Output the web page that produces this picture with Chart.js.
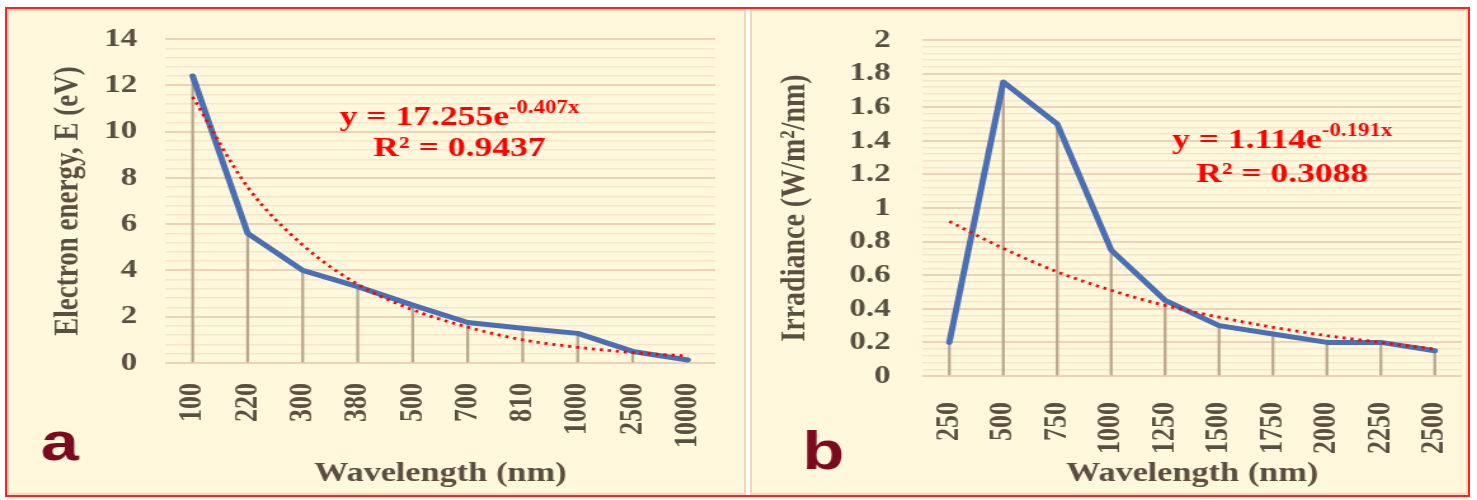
<!DOCTYPE html>
<html>
<head>
<meta charset="utf-8">
<script src="https://cdn.jsdelivr.net/npm/chart.js@4.4.1/dist/chart.umd.min.js"></script>
<style>
  body { margin: 0; background: #fff; width: 1477px; height: 500px; position: relative; overflow: hidden; }
  #frame { position: absolute; left: 5px; top: 7px; width: 1461px; height: 486px; border: 2px solid #ff2020; background: #fff8dc; box-shadow: inset 0 0 0 2px #f2dcc0; }
  #divider { position: absolute; left: 744px; top: 9px; width: 4px; height: 486px; background: #fff; border-left: 2px solid #eed6b8; border-right: 2px solid #eed6b8; }
  canvas { position: absolute; top: 0; }
</style>
</head>
<body>
<div id="frame"></div>
<div id="divider"></div>
<canvas id="chartA" width="588" height="500" style="left:0;width:747px;height:500px"></canvas>
<canvas id="chartB" width="572" height="500" style="left:751px;width:726px;height:500px"></canvas>
<script>
// panel a
const wavelengthA = ["100", "220", "300", "380", "500", "700", "810", "1000", "2500", "10000"];
const energyA = [12.4, 5.6, 4.0, 3.3, 2.5, 1.75, 1.5, 1.28, 0.5, 0.13];
const trendA = [11.5, 7.6, 5.1, 3.4, 2.3, 1.55, 1.0, 0.68, 0.45, 0.3];

// panel b
const wavelengthB = ["250", "500", "750", "1000", "1250", "1500", "1750", "2000", "2250", "2500"];
const irradianceB = [0.2, 1.75, 1.5, 0.75, 0.45, 0.3, 0.25, 0.2, 0.2, 0.15];
const trendB = [0.92, 0.76, 0.62, 0.51, 0.42, 0.35, 0.29, 0.24, 0.2, 0.16];

const textColor = "#5b4e3e";
const serif = "Liberation Serif";

// red equation + panel letter, placed in data units
const equationPlugin = {
  id: "equation",
  afterDatasetsDraw(chart, args, opts) {
    const { ctx, scales: { x, y } } = chart;
    const cx = x.getPixelForValue(opts.at);
    const y1 = y.getPixelForValue(opts.line1);
    const y2 = y.getPixelForValue(opts.line2);
    ctx.save();
    ctx.fillStyle = "#ff0000";
    ctx.textBaseline = "alphabetic";
    ctx.font = `bold 28px "${serif}"`;
    const w1 = ctx.measureText(opts.base).width;
    ctx.font = `bold 18px "${serif}"`;
    const w2 = ctx.measureText(opts.sup).width;
    const sx = cx - (w1 + w2) / 2;
    ctx.textAlign = "left";
    ctx.font = `bold 28px "${serif}"`;
    ctx.fillText(opts.base, sx, y1);
    ctx.font = `bold 18px "${serif}"`;
    ctx.fillText(opts.sup, sx + w1, y1 - 12);
    ctx.textAlign = "center";
    ctx.font = `bold 28px "${serif}"`;
    ctx.fillText(opts.r2, cx, y2);

    ctx.fillStyle = "#7b0a1e";
    ctx.font = 'bold 54px "Liberation Sans"';
    ctx.fillText(opts.letter, opts.letterX, opts.letterY);
    ctx.restore();
  },
};

function makeChart(id, labels, values, trend, s) {
  const isMajor = (v) => Math.abs(v / s.major - Math.round(v / s.major)) < 1e-6;
  return new Chart(document.getElementById(id), {
    type: "bar",
    data: {
      labels: labels,
      datasets: [
        {
          type: "line",
          data: trend,
          borderColor: "#ff0000",
          borderWidth: 2.8,
          borderDash: [2.5, 3.8],
          cubicInterpolationMode: "monotone",
          pointRadius: 0,
          fill: false,
          order: 0,
        },
        {
          type: "line",
          data: values,
          borderColor: "#4a6fb2",
          borderWidth: 5,
          borderJoinStyle: "round",
          borderCapStyle: "round",
          pointRadius: 0,
          fill: false,
          order: 1,
        },
        {
          type: "bar",
          data: values,
          backgroundColor: "#b8a68c",
          barThickness: 1.6,
          order: 2,
        },
      ],
    },
    plugins: [equationPlugin],
    options: {
      responsive: false,
      animation: false,
      layout: { padding: { left: 0, right: s.padRight, top: s.top, bottom: 0 } },
      plugins: {
        legend: { display: false },
        tooltip: { enabled: false },
        equation: s.eq,
      },
      scales: {
        x: {
          afterFit: (sc) => {
            sc.height = s.xHeight;
            sc.paddingLeft = 0;
            sc.paddingRight = 0;
          },
          grid: { display: false },
          border: { display: false },
          ticks: {
            color: textColor,
            font: { family: serif, weight: "bold", size: 26 },
            minRotation: 90,
            maxRotation: 90,
            autoSkip: false,
            padding: s.xPad,
          },
          title: {
            display: true,
            text: "Wavelength (nm)",
            color: textColor,
            font: { family: serif, weight: "bold", size: 27 },
            padding: { top: 0, bottom: 10 },
          },
        },
        y: {
          min: 0,
          max: s.max,
          afterFit: (sc) => {
            sc.width = s.yWidth;
            sc.paddingTop = 0;
            sc.paddingBottom = 0;
          },
          border: { display: false },
          grid: {
            color: (c) => (isMajor(c.tick.value) ? "#ecd2b6" : "#f5e6c9"),
            lineWidth: (c) => (isMajor(c.tick.value) ? 2 : 1.5),
            drawTicks: false,
          },
          ticks: {
            stepSize: s.minor,
            autoSkip: false,
            color: textColor,
            font: { family: serif, weight: "bold", size: 26 },
            padding: s.yPad,
            callback: (v) => (isMajor(v) ? String(Number(v.toFixed(1))) : ""),
          },
          title: {
            display: true,
            text: s.yTitle,
            color: textColor,
            font: { family: serif, weight: "bold", size: s.yTitleSize },
            padding: { top: s.yTitlePad, bottom: 0 },
          },
        },
      },
    },
  });
}

makeChart("chartA", wavelengthA, energyA, trendA, {
  max: 14, major: 2, minor: 0.4,
  top: 39, padRight: 25, xHeight: 137, yWidth: 130,
  xPad: 12, yPad: 22, yTitlePad: 38, yTitleSize: 27,
  yTitle: "Electron energy, E (eV)",
  eq: {
    at: 4.85, line1: 10.3, line2: 8.95,
    base: "y = 17.255e", sup: "-0.407x", r2: "R\u00b2 = 0.9437",
    letter: "a", letterX: 47, letterY: 460,
  },
});

makeChart("chartB", wavelengthB, irradianceB, trendB, {
  max: 2, major: 0.2, minor: 0.04,
  top: 40, padRight: 12, xHeight: 124, yWidth: 135,
  xPad: 18, yPad: 25, yTitlePad: 18, yTitleSize: 28,
  yTitle: "Irradiance (W/m\u00b2/nm)",
  eq: {
    at: 6.17, line1: 1.357, line2: 1.157,
    base: "y = 1.114e", sup: "-0.191x", r2: "R\u00b2 = 0.3088",
    letter: "b", letterX: 57, letterY: 469,
  },
});
</script>
</body>
</html>
